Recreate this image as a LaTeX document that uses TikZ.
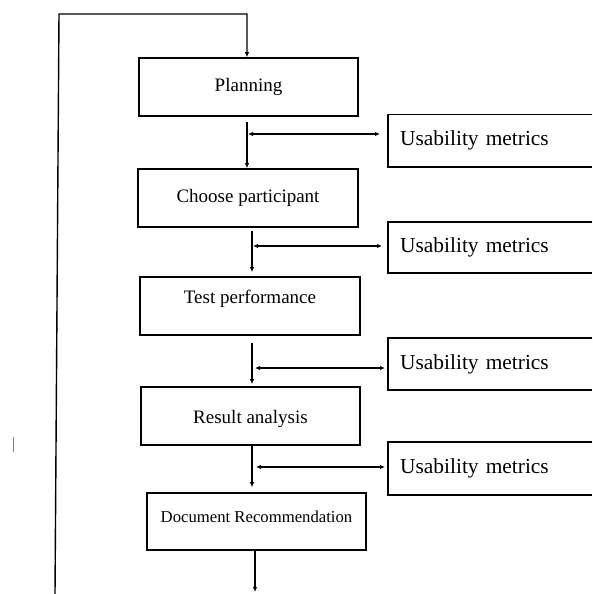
\documentclass[tikz,border=0pt]{standalone}
\usepackage{fontspec}
\setmainfont{Liberation Serif}
\usetikzlibrary{arrows.meta, positioning, calc}

\begin{document}
\begin{tikzpicture}[x=1pt, y=-1pt,
  stage/.style={rectangle, draw, line width=1.6pt, minimum width=219pt,
    minimum height=58pt, align=center, font=\fontsize{19}{22}\selectfont},
  metric/.style={rectangle, anchor=west, minimum height=52pt, inner xsep=12pt,
    text width=180pt, align=left, font=\fontsize{21.4}{25}\selectfont},
  flow/.style={-{Latex[length=5pt,width=4.5pt]}, line width=1.4pt},
  both/.style={{Latex[length=5pt,width=4.5pt]}-{Latex[length=5pt,width=4.5pt]}, line width=1.4pt}
]
\useasboundingbox (0,0) rectangle (592,594);

% Stages
\node[stage] (plan) at (248.5,87) {Planning};
\node[stage, minimum width=220pt] (choose) at (248,198) {Choose participant};
\node[stage, minimum width=220pt, text depth=18pt] (test) at (250,306) {Test performance};
\node[stage, text height=20pt] (result) at (250.5,416) {Result analysis};
\node[stage, minimum height=57pt, text depth=9pt, font=\fontsize{16.7}{20}\selectfont] (doc) at (256.5,521.5) {Document Recommendation};

% Metrics (open to the right)
\node[metric] (m1) at (388,140.5) {Usability metrics};
\node[metric, minimum height=51pt] (m2) at (388,247.5) {Usability metrics};
\node[metric] (m3) at (388,364) {Usability metrics};
\node[metric, minimum height=53pt] (m4) at (388,468.5) {Usability metrics};
\foreach \m in {m1,m2,m3,m4}
  \draw[line width=1.6pt] (\m.north east) -- (\m.north west) -- (\m.south west) -- (\m.south east);

% Junctions
\coordinate (j1) at (247,134);
\coordinate (j2) at (252,246);
\coordinate (j3) at (252,368);
\coordinate (j4) at (252,467);
\coordinate (out) at (255,592);
\coordinate (loopbot) at (55,594);
\coordinate (looptop) at (59,14);

% Flow
\draw[flow, shorten <=5pt] (plan.south -| j1) -- (choose.north -| j1);
\draw[flow, shorten <=3pt, shorten >=4pt] (choose.south -| j2) -- (test.north -| j2);
\draw[flow, shorten <=7pt, shorten >=2pt] (test.south -| j3) -- (result.north -| j3);
\draw[flow, shorten >=5pt] (result.south -| j4) -- (doc.north -| j4);
\draw[flow] (doc.south -| out) -- (out);

\draw[both, shorten <=1pt, shorten >=8pt] (j1) -- (j1 -| m1.west);
\draw[both, shorten <=1pt, shorten >=6pt] (j2) -- (j2 -| m2.west);
\draw[both, shorten <=3pt, shorten >=3pt] (j3) -- (j3 -| m3.west);
\draw[both, shorten <=4pt, shorten >=3pt] (j4) -- (j4 -| m4.west);

% Feedback loop
\draw[flow] (loopbot) -- (looptop) -- (looptop -| j1) -- (plan.north -| j1);

\draw[gray, line width=1pt] (13,437) -- (13,452);
\end{tikzpicture}
\end{document}
